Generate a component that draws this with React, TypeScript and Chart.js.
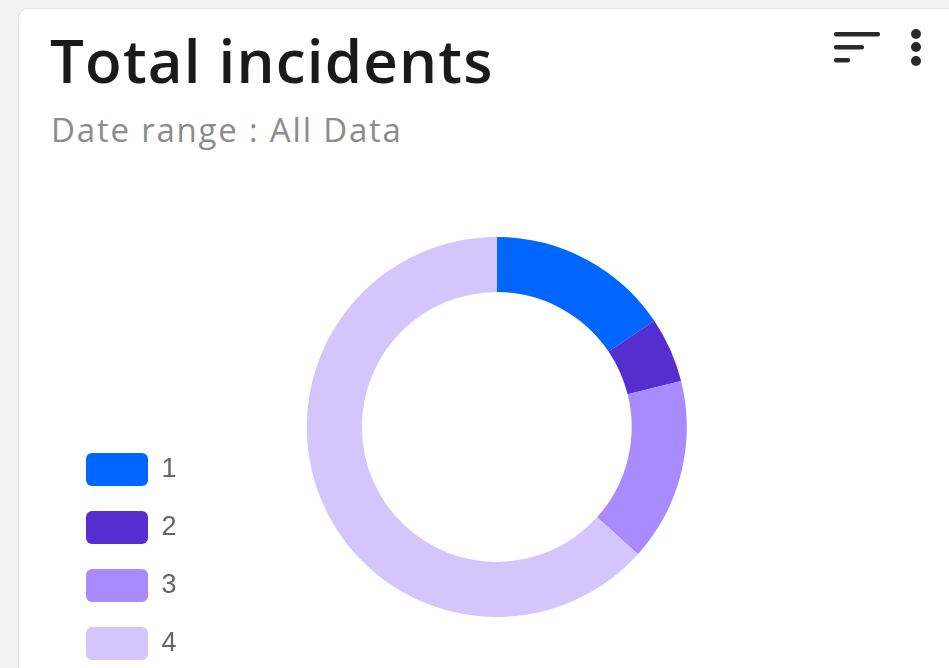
import React, { useEffect, useRef } from "react";
import { Chart, registerables } from "chart.js";

Chart.register(...registerables);

const categories = ["1", "2", "3", "4"];
const incidentCounts = [14, 5, 14, 57];
const sliceColors = ["#0066FF", "#552ECF", "#A88CFF", "#D4C6FC"];

const titleText = "Total incidents";
const subtitleText = "Date range : All Data";

export default function App() {
  const canvasRef = useRef<HTMLCanvasElement | null>(null);

  useEffect(() => {
    document.body.style.margin = "0";
    const ctx = canvasRef.current;
    if (!ctx) return;
    const chart = new Chart(ctx, {
      type: "doughnut",
      data: {
        labels: categories,
        datasets: [
          {
            data: incidentCounts,
            backgroundColor: sliceColors,
            borderWidth: 0,
            hoverOffset: 0,
          },
        ],
      },
      options: {
        animation: false,
        responsive: false,
        maintainAspectRatio: false,
        radius: 190,
        cutout: "71%",
        layout: { padding: 0 },
        plugins: {
          tooltip: { enabled: false },
          legend: {
            position: "left",
            align: "end",
            labels: {
              boxWidth: 62,
              boxHeight: 33,
              padding: 25,
              useBorderRadius: true,
              borderRadius: 6,
              color: "#666666",
              font: { size: 27, family: "'Liberation Sans', Arial, sans-serif" },
            },
          },
        },
      } as any,
    });
    return () => chart.destroy();
  }, []);

  return (
    <div
      style={{
        position: "fixed",
        left: 0,
        top: 0,
        width: 949,
        height: 668,
        overflow: "hidden",
        background: "#f2f2f2",
      }}
    >
      <div
        style={{
          position: "absolute",
          left: 18,
          top: 8,
          width: 1000,
          height: 720,
          background: "#ffffff",
          border: "1.5px solid #e2e2e2",
          borderRadius: 10,
          boxSizing: "border-box",
        }}
      />
      <div
        style={{
          position: "absolute",
          left: 50,
          top: 20,
          fontFamily: "'Open Sans', sans-serif",
          fontWeight: 600,
          fontSize: 60,
          letterSpacing: "1.2px",
          color: "#1a1a1a",
          whiteSpace: "nowrap",
          lineHeight: "80px",
        }}
      >
        {titleText}
      </div>
      <div
        style={{
          position: "absolute",
          left: 51,
          top: 108,
          fontFamily: "'Open Sans', sans-serif",
          fontWeight: 400,
          fontSize: 33,
          letterSpacing: "1.8px",
          color: "#8c8c8c",
          whiteSpace: "nowrap",
          lineHeight: "44px",
        }}
      >
        {subtitleText}
      </div>
      <svg
        style={{ position: "absolute", left: 820, top: 20 }}
        width={120}
        height={60}
      >
        <rect x={834 - 820} y={32 - 20} width={46} height={4.5} rx={2} fill="#2a2a2a" />
        <rect x={834 - 820} y={45 - 20} width={30} height={4.5} rx={2} fill="#2a2a2a" />
        <rect x={834 - 820} y={58 - 20} width={16} height={4.5} rx={2} fill="#2a2a2a" />
        <circle cx={916 - 820} cy={34 - 20} r={5} fill="#2a2a2a" />
        <circle cx={916 - 820} cy={47 - 20} r={5} fill="#2a2a2a" />
        <circle cx={916 - 820} cy={61 - 20} r={5} fill="#2a2a2a" />
      </svg>
      <canvas
        ref={canvasRef}
        width={746}
        height={516}
        style={{ position: "absolute", left: 61, top: 169, width: 746, height: 516 }}
      />
    </div>
  );
}
